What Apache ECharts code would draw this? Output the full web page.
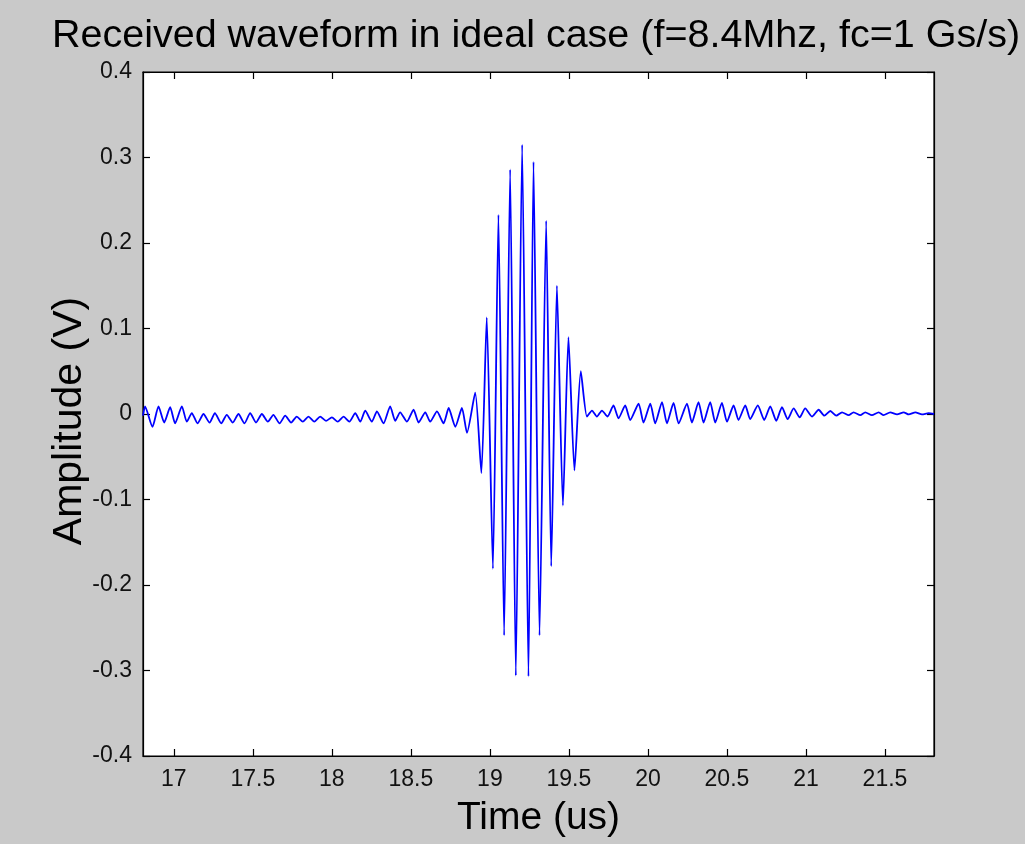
<!DOCTYPE html>
<html>
<head>
<meta charset="utf-8">
<title>Received waveform</title>
<script src="https://cdn.jsdelivr.net/npm/echarts@6/dist/echarts.min.js"></script>
<style>
  html, body { margin: 0; padding: 0; background: #c9c9c9; }
  #chart { width: 1025px; height: 844px; }
</style>
</head>
<body>
<div id="chart"></div>
<script>
// Received echo: alternating peaks and troughs of the trace (time in us, amplitude in V)
const times = [
  16.805, 16.818, 16.865, 16.903, 16.939, 16.977, 17.008, 17.051, 17.082,
  17.114, 17.150, 17.188, 17.226, 17.260, 17.300, 17.335, 17.373, 17.409, 17.447,
  17.483, 17.520, 17.557, 17.595, 17.630, 17.669, 17.705, 17.742, 17.778, 17.816,
  17.852, 17.889, 17.926, 17.963, 18.000, 18.037, 18.074, 18.111,
  18.148, 18.180, 18.211, 18.253, 18.285, 18.327, 18.369, 18.401, 18.432, 18.475,
  18.517, 18.549, 18.591, 18.622, 18.665, 18.707, 18.739, 18.781, 18.823, 18.855,
  18.907, 18.946, 18.980, 19.019, 19.054, 19.090, 19.128, 19.164, 19.204, 19.244,
  19.276, 19.314, 19.356, 19.388, 19.424, 19.462, 19.497, 19.535, 19.575,
  19.614, 19.646, 19.677, 19.709, 19.744, 19.782, 19.814, 19.856, 19.888, 19.941,
  19.972, 20.015, 20.046, 20.089, 20.120, 20.162, 20.194, 20.247, 20.278, 20.320,
  20.352, 20.394, 20.426, 20.468, 20.500, 20.542, 20.573, 20.616, 20.647, 20.695,
  20.736, 20.774, 20.812, 20.848, 20.884, 20.922, 20.960, 20.995, 21.038, 21.080,
  21.116, 21.154, 21.192, 21.228, 21.270, 21.301, 21.344, 21.375, 21.417, 21.460,
  21.491, 21.533, 21.576, 21.618, 21.650, 21.692, 21.734, 21.776, 21.810
];
const amplitudes = [
  -0.002, 0.009, -0.015, 0.009, -0.010, 0.008, -0.011, 0.009, -0.009,
  0.001, -0.011, 0.000, -0.010, 0.001, -0.011, -0.001, -0.010, 0.000, -0.011,
  0.001, -0.010, 0.000, -0.009, -0.001, -0.011, -0.002, -0.010, -0.003, -0.009,
  -0.003, -0.009, -0.003, -0.008, -0.004, -0.009, -0.003, -0.009,
  0.001, -0.009, 0.004, -0.009, 0.003, -0.011, 0.009, -0.008, 0.002, -0.009,
  0.005, -0.010, 0.002, -0.009, 0.003, -0.011, 0.007, -0.015, 0.007, -0.022,
  0.025, -0.069, 0.113, -0.181, 0.233, -0.259, 0.286, -0.306, 0.315, -0.307,
  0.295, -0.259, 0.226, -0.178, 0.150, -0.107, 0.090, -0.066, 0.050,
  -0.003, 0.004, -0.003, 0.004, -0.003, 0.010, -0.005, 0.010, -0.007, 0.012,
  -0.010, 0.012, -0.011, 0.014, -0.011, 0.013, -0.011, 0.012, -0.010, 0.014,
  -0.010, 0.014, -0.010, 0.013, -0.009, 0.010, -0.007, 0.010, -0.006, 0.010,
  -0.007, 0.009, -0.008, 0.008, -0.006, 0.0065, -0.004, 0.0065, -0.003, 0.005,
  -0.002, 0.0035, -0.002, 0.002, -0.0013, 0.002, -0.0013, 0.002, -0.0013, 0.002,
  -0.0013, 0.002, -0.0005, 0.002, -0.0005, 0.002, -0.0005, 0.001, 0.000
];

const timeTicks = [17, 17.5, 18, 18.5, 19, 19.5, 20, 20.5, 21, 21.5];
const timeRange = [16.805, 21.81];
const ampRange = [-0.4, 0.4];
const ampStep = 0.1;

const titleText = 'Received waveform in ideal case (f=8.4Mhz, fc=1 Gs/s)';
const xName = 'Time (us)';
const yName = 'Amplitude (V)';

const FONT = '"Liberation Sans", Arial, sans-serif';
const points = times.map((t, i) => [t, amplitudes[i]]);

const chart = echarts.init(document.getElementById('chart'), null, { renderer: 'canvas' });

const lineStyle = { color: '#000', width: 1.2 };
const tickStyle = { inside: true, length: 7, lineStyle: { color: '#000', width: 1.2 } };

chart.setOption({
  backgroundColor: '#c9c9c9',
  animation: false,
  grid: {
    left: 143, right: 91, top: 72, bottom: 88,
    show: true, backgroundColor: '#ffffff', borderColor: '#000', borderWidth: 1.2
  },
  graphic: [{
    type: 'text', x: 536, y: 36,
    style: { text: titleText, font: '39.5px ' + FONT, fill: '#000', textAlign: 'center', textVerticalAlign: 'middle' }
  }, {
    // vertical axis title, rotated to read bottom-to-top
    type: 'text', x: 70, y: 421, rotation: Math.PI / 2,
    style: { text: yName, font: '41px ' + FONT, fill: '#000', textAlign: 'center', textVerticalAlign: 'middle' }
  }],
  xAxis: [{
    type: 'value', position: 'bottom', min: timeRange[0], max: timeRange[1],
    axisLine: { show: true, onZero: false, lineStyle }, splitLine: { show: false },
    axisTick: Object.assign({ customValues: timeTicks }, tickStyle),
    axisLabel: { customValues: timeTicks, color: '#111', fontSize: 23, fontFamily: FONT, margin: 12 },
    name: xName, nameLocation: 'middle', nameGap: 43,
    nameTextStyle: { fontSize: 39, fontFamily: FONT, color: '#000', verticalAlign: 'top' }
  }, {
    type: 'value', position: 'top', min: timeRange[0], max: timeRange[1],
    axisLine: { show: true, onZero: false, lineStyle }, splitLine: { show: false },
    axisTick: Object.assign({ customValues: timeTicks }, tickStyle),
    axisLabel: { show: false }
  }],
  yAxis: [{
    type: 'value', position: 'left', min: ampRange[0], max: ampRange[1], interval: ampStep,
    axisLine: { show: true, onZero: false, lineStyle }, splitLine: { show: false },
    axisTick: tickStyle,
    axisLabel: { color: '#111', fontSize: 23, fontFamily: FONT, margin: 11 }
  }, {
    type: 'value', position: 'right', min: ampRange[0], max: ampRange[1], interval: ampStep,
    axisLine: { show: true, onZero: false, lineStyle }, splitLine: { show: false },
    axisTick: tickStyle,
    axisLabel: { show: false }
  }],
  series: [{
    type: 'line',
    data: points,
    xAxisIndex: 0, yAxisIndex: 0,
    showSymbol: false,
    smooth: 0.2,
    lineStyle: { color: '#0000ff', width: 1.8 },
    clip: true
  }]
});
</script>
</body>
</html>
